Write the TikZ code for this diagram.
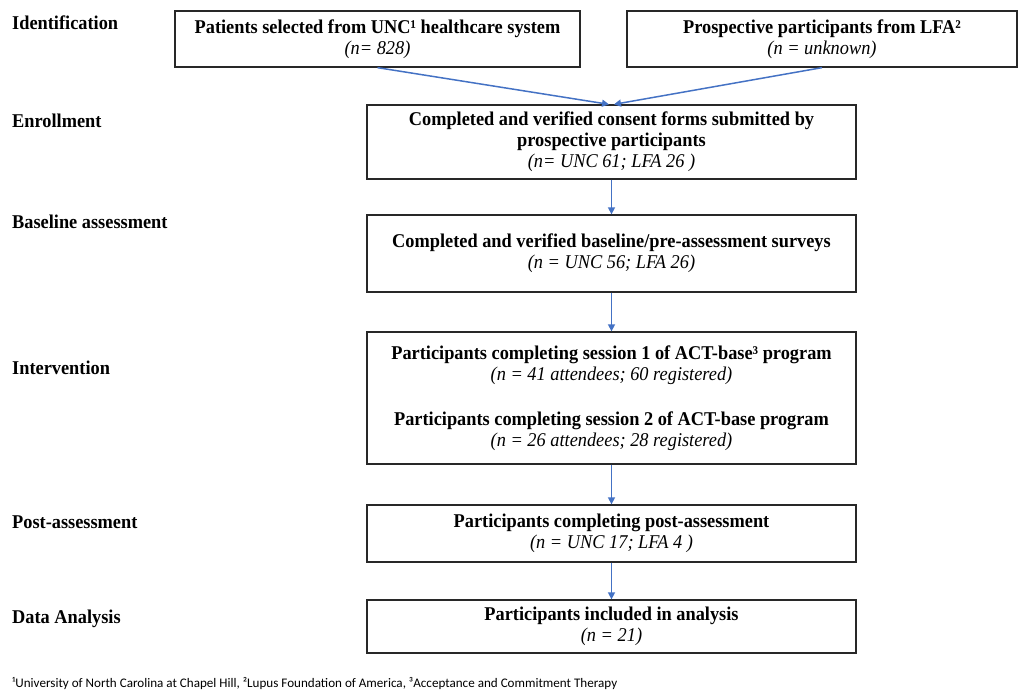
\documentclass[tikz,border=0pt]{standalone}
\usepackage{fontspec}
\setmainfont{Liberation Serif}[FakeStretch=0.94]
\newfontfamily\notefont{Carlito}
\usetikzlibrary{positioning,arrows.meta}
\definecolor{myblue}{RGB}{68,114,196}
\definecolor{mygray}{RGB}{40,40,40}

\begin{document}
\begin{tikzpicture}[x=1pt,y=-1pt,
  stagebox/.style={draw=mygray,line width=1.3pt,align=center,inner sep=0pt,
    font=\fontsize{19.5}{21}\selectfont},
  stagelabel/.style={anchor=base west,inner sep=0pt,
    font=\fontsize{19.5}{21}\selectfont\bfseries},
  flow/.style={draw=myblue,line width=1.5pt,-{Triangle[length=7pt,width=7pt]}}
]
\useasboundingbox (0,0) rectangle (1020,690);

% the stage labels
\node[stagelabel] (lid) at (12,30) {Identification};
\node[stagelabel] (len) at (12,127.5) {Enrollment};
\node[stagelabel] (lbl) at (12,228) {Baseline assessment};
\node[stagelabel] (lin) at (12,374) {Intervention};
\node[stagelabel] (lpo) at (12,528) {Post-assessment};
\node[stagelabel] (lda) at (12,623) {Data Analysis};

% the boxes of the flow
\node[stagebox,minimum width=405pt,minimum height=56pt] (unc) at (377.5,39)
  {\textbf{Patients selected from UNC¹ healthcare system}\\ \textit{(n= 828)}};
\node[stagebox,minimum width=390pt,minimum height=56pt] (lfa) at (822,39)
  {\textbf{Prospective participants from LFA²}\\ \textit{(n = unknown)}};
\node[stagebox,minimum width=489pt,minimum height=74pt] (enrol) at (611.5,142)
  {\textbf{Completed and verified consent forms submitted by}\\
   \textbf{prospective participants}\\ \textit{(n= UNC 61; LFA 26 )}};
\node[stagebox,minimum width=489pt,minimum height=77pt] (base) at (611.5,253.5)
  {\textbf{Completed and verified baseline/pre-assessment surveys}\\
   \textit{(n = UNC 56; LFA 26)}};
\node[stagebox,minimum width=489pt,minimum height=132pt] (inter) at (611.5,398)
  {\textbf{Participants completing session 1 of ACT-base³ program}\\
   \textit{(n = 41 attendees; 60 registered)}\\[24pt]
   \textbf{Participants completing session 2 of ACT-base program}\\
   \textit{(n = 26 attendees; 28 registered)}};
\node[stagebox,minimum width=489pt,minimum height=57pt] (post) at (611.5,533.5)
  {\textbf{Participants completing post-assessment}\\
   \textit{(n = UNC 17; LFA 4 )}};
\node[stagebox,minimum width=489pt,minimum height=53pt] (data) at (611.5,626.5)
  {\textbf{Participants included in analysis}\\ \textit{(n = 21)}};

% the footnote
\node[anchor=base west,inner sep=0pt,font=\notefont\fontsize{13.1}{15}\selectfont]
  (note) at (12,687)
  {¹University of North Carolina at Chapel Hill, ²Lupus Foundation of America, ³Acceptance and Commitment Therapy};

% the arrows
\draw[flow] (unc.south) -- ([xshift=-2.5pt]enrol.north);
\draw[flow] (lfa.south) -- ([xshift=2.5pt]enrol.north);
\draw[flow] (enrol) -- (base);
\draw[flow] (base) -- (inter);
\draw[flow] (inter) -- (post);
\draw[flow] (post) -- (data);
\end{tikzpicture}
\end{document}
